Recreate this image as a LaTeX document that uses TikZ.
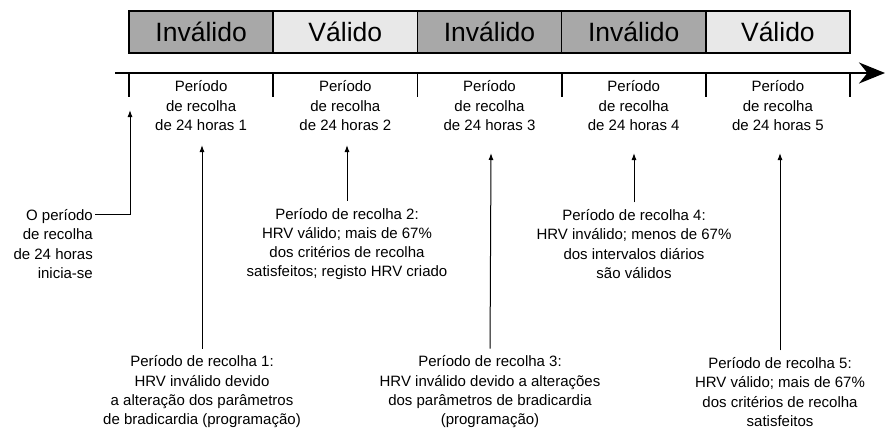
\documentclass[tikz,border=0pt]{standalone}
\usepackage{fontspec}
\setmainfont{Liberation Sans}
\usetikzlibrary{arrows.meta}
\definecolor{invgray}{RGB}{168,168,168}
\definecolor{valgray}{RGB}{232,232,232}
\tikzset{
  segbox/.style={draw,line width=1.6pt,minimum width=144.2pt,minimum height=42pt,inner sep=0pt,font=\fontsize{26.5}{30}\selectfont},
  perlabel/.style={align=center,inner sep=0pt,font=\fontsize{15}{19.5}\selectfont},
  note/.style={align=center,inner sep=0pt,font=\fontsize{15}{19.3}\selectfont},
  tip/.style={-{Latex[length=7pt,width=5pt]},line width=1pt},
}
\begin{document}
\begin{tikzpicture}[x=1pt,y=-1pt]
\useasboundingbox (0,0) rectangle (885,428);
% estados dos periodos
\foreach \i/\st/\col in {1/Inválido/invgray,2/Válido/valgray,3/Inválido/invgray,4/Inválido/invgray,5/Válido/valgray}
  \node[segbox,fill=\col] (seg\i) at (56.9+144.2*\i,32) {\st};
% eixo do tempo
\coordinate (tl0) at (115,73);
\coordinate (tlend) at (885,73);
\draw[line width=2.6pt,-{Stealth[length=26pt,width=21pt]}] (tl0) -- (tlend);
\foreach \i in {0,...,5}
  \draw[line width=1.8pt] (129+144.2*\i,73) -- ++(0,24);
\foreach \i in {1,...,5}
  \node[perlabel] (per\i) at (56.9+144.2*\i,106) {Período\\de recolha\\de 24 horas \i};
% notas
\node[note,align=right,anchor=east] (note0) at (93,244) {O período\\de recolha\\de 24 horas\\inicia-se};
\node[note] (note2) at (347,244) {Período de recolha 2:\\HRV válido; mais de 67\%\\dos critérios de recolha\\satisfeitos; registo HRV criado};
\node[note] (note4) at (634,244) {Período de recolha 4:\\HRV inválido; menos de 67\%\\dos intervalos diários\\são válidos};
\node[note] (note1) at (202,392) {Período de recolha 1:\\HRV inválido devido\\a alteração dos parâmetros\\de bradicardia (programação)};
\node[note] (note3) at (490,392) {Período de recolha 3:\\HRV inválido devido a alterações\\dos parâmetros de bradicardia\\(programação)};
\node[note] (note5) at (780,392) {Período de recolha 5:\\HRV válido; mais de 67\%\\dos critérios de recolha\\satisfeitos};
% setas
\coordinate (tip0) at (130,110);
\coordinate (bend) at (130,214);
\coordinate (tip1) at (202,145);
\coordinate (tip2) at (347,145);
\coordinate (tip3) at (491,153);
\coordinate (tip4) at (634,153);
\coordinate (tip5) at (780,153);
\draw[tip] ([xshift=2pt]note0.east |- bend) -- (bend) -- (tip0);
\foreach \i in {1,...,5}
  \draw[tip,shorten <=7pt] (note\i.north) -- (tip\i);
\end{tikzpicture}
\end{document}
